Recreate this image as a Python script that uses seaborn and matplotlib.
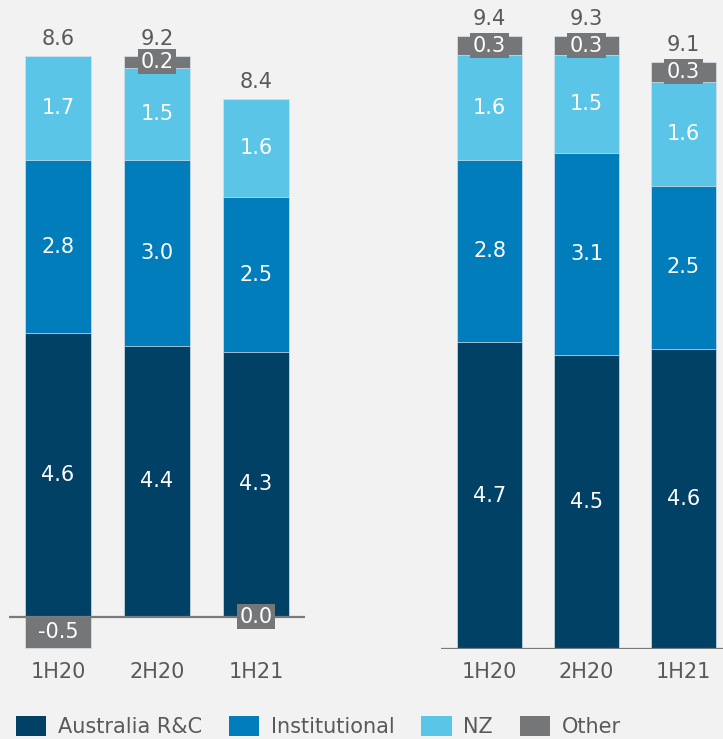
import pandas as pd
import matplotlib.pyplot as plt
from matplotlib.patches import Patch
import seaborn as sns

periods = ['1H20', '2H20', '1H21']

# left panel
left_aus = [4.6, 4.4, 4.3]
left_inst = [2.8, 3.0, 2.5]
left_nz = [1.7, 1.5, 1.6]
left_other = [-0.5, 0.2, 0.0]
left_total = [8.6, 9.2, 8.4]

# right panel
right_aus = [4.7, 4.5, 4.6]
right_inst = [2.8, 3.1, 2.5]
right_nz = [1.6, 1.5, 1.6]
right_other = [0.3, 0.3, 0.3]
right_total = [9.4, 9.3, 9.1]

series_names = ['Australia R&C', 'Institutional', 'NZ', 'Other']

BG = '#f2f2f2'
C_AUS = '#004165'
C_INST = '#007dba'
C_NZ = '#5bc5e8'
C_OTHER = '#747678'
TXT = '#595959'
FS = 15

sns.set_theme(style="white")
plt.rcParams['font.family'] = ['DejaVu Sans']


def draw_panel(ax, aus, inst, nz, other, total, width, xlim, ylim, pad):
    df = pd.DataFrame({'period': periods, 'aus': aus, 'inst': inst,
                       'nz': nz, 'other': other, 'total': total})
    df['inst_top'] = df['aus'] + df['inst']
    df['nz_top'] = df['inst_top'] + df['nz']
    df['other_top'] = df['nz_top'] + df['other'].clip(lower=0)
    df['other_neg'] = df['other'].clip(upper=0)

    # stacked look: tallest layer first, each shorter layer drawn over it
    layers = [('other_top', C_OTHER), ('other_neg', C_OTHER), ('nz_top', C_NZ),
              ('inst_top', C_INST), ('aus', C_AUS)]
    for col, color in layers:
        sns.barplot(data=df, x='period', y=col, color=color, width=width,
                    saturation=1, errorbar=None, ax=ax,
                    edgecolor='#dbe6ee', linewidth=0.5)

    ax.axhline(0, color='#7a7a7a', lw=1.6, zorder=4)

    for i, r in df.iterrows():
        ax.text(i, r['aus'] / 2, f"{r['aus']:.1f}", color='white', fontsize=FS,
                ha='center', va='center', zorder=5)
        ax.text(i, r['aus'] + r['inst'] / 2, f"{r['inst']:.1f}", color='white',
                fontsize=FS, ha='center', va='center', zorder=5)
        ax.text(i, r['inst_top'] + r['nz'] / 2, f"{r['nz']:.1f}", color='white',
                fontsize=FS, ha='center', va='center', zorder=5)
        if r['other'] > 0:
            oy = r['nz_top'] + r['other'] / 2
        else:
            oy = r['other'] / 2
        ax.text(i, oy, f"{r['other']:.1f}", color='white', fontsize=FS,
                ha='center', va='center', zorder=6,
                bbox=dict(boxstyle='square,pad=0.12', fc=C_OTHER, ec='none'))
        ax.annotate(f"{r['total']:.1f}", (i, r['other_top']), xytext=(0, 5),
                    textcoords='offset points', ha='center', va='bottom',
                    color=TXT, fontsize=FS)

    ax.set_xlim(*xlim)
    ax.set_ylim(*ylim)
    ax.set_facecolor(BG)
    ax.set_xlabel('')
    ax.set_ylabel('')
    ax.set_yticks([])
    ax.tick_params(axis='x', length=0, pad=pad, labelsize=FS, labelcolor=TXT)
    for s in ax.spines.values():
        s.set_visible(False)


fig = plt.figure(figsize=(7.23, 7.39), dpi=100)
fig.patch.set_facecolor(BG)

ax1 = fig.add_axes([9 / 723, 85 / 739, 296 / 723, 654 / 739])
ax2 = fig.add_axes([441 / 723, 90 / 739, 291 / 723, 649 / 739])

draw_panel(ax1, left_aus, left_inst, left_nz, left_other, left_total,
           width=0.667, xlim=(-0.495, 2.495), ylim=(-0.6, 10.0), pad=5.5)
draw_panel(ax2, right_aus, right_inst, right_nz, right_other, right_total,
           width=0.67, xlim=(-0.5, 2.5), ylim=(0, 9.95), pad=9)

handles = [Patch(facecolor=c, edgecolor='none') for c in [C_AUS, C_INST, C_NZ, C_OTHER]]
leg = fig.legend(handles, series_names, loc='lower left', ncol=4,
                 bbox_to_anchor=(16 / 723, 2 / 739), frameon=False, fontsize=FS,
                 handlelength=1.45, handleheight=1.1, handletextpad=0.55,
                 columnspacing=1.3, borderpad=0, borderaxespad=0)
for t in leg.get_texts():
    t.set_color(TXT)

fig.savefig('out.png', dpi=100, facecolor=fig.get_facecolor())
